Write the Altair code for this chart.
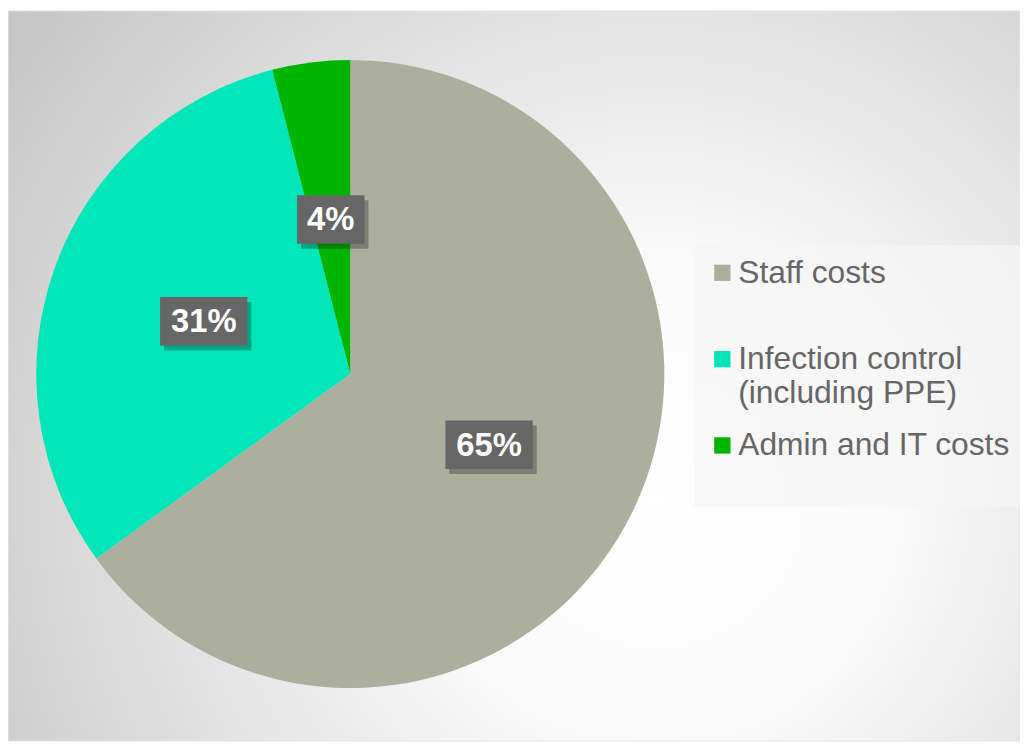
import altair as alt
import pandas as pd

categories = ["Staff costs", "Infection control (including PPE)", "Admin and IT costs"]
shares = [65, 31, 4]
colors = ["#ADAF9E", "#00E5B9", "#00B400"]

df = pd.DataFrame({"category": categories, "share": shares, "idx": list(range(len(categories)))})

CX, CY, R, LR = 345, 366, 316.5, 157

background = alt.Chart(pd.DataFrame({"bg": [0]})).mark_rect(
    fill=alt.RadialGradient(
        gradient="radial",
        x1=0.64, y1=0.62, r1=0.0,
        x2=0.64, y2=0.62, r2=0.78,
        stops=[
            alt.GradientStop(color="#FFFFFF", offset=0.0),
            alt.GradientStop(color="#FAFAFA", offset=0.3),
            alt.GradientStop(color="#C6C6C6", offset=1.0),
        ],
    ),
    stroke="#E6E6E6",
).encode(
    x=alt.value(0), x2=alt.value("width"), y=alt.value(0), y2=alt.value("height"),
)

base = alt.Chart(df)

split_expr = (
    "indexof(datum.label, ' (') > 0 ? "
    "[substring(datum.label, 0, indexof(datum.label, ' (')), "
    "substring(datum.label, indexof(datum.label, ' (') + 1)] : [datum.label, '']"
)

pie = base.mark_arc(radius=R, stroke=None).encode(
    theta=alt.Theta("share:Q", stack=True),
    order=alt.Order("idx:Q"),
    color=alt.Color(
        "category:N",
        scale=alt.Scale(domain=categories, range=colors),
        sort=categories,
        legend=alt.Legend(
            orient="none",
            legendX=692,
            legendY=236,
            title=None,
            symbolType="square",
            symbolSize=270,
            symbolStrokeWidth=0,
            labelFontSize=32,
            labelFont="Liberation Sans",
            labelColor="#666666",
            labelLimit=500,
            labelOffset=0,
            labelBaseline="middle",
            rowPadding=21,
            padding=12,
            fillColor="rgba(245,245,245,0.75)",
            labelExpr=split_expr,
        ),
    ),
    x=alt.value(CX),
    y=alt.value(CY),
)

lab = base.transform_window(
    cum="sum(share)", sort=[alt.SortField("idx")], frame=[None, 0]
).transform_joinaggregate(
    total="sum(share)"
).transform_calculate(
    mid="(datum.cum - datum.share / 2) / datum.total * 2 * PI",
    label="format(datum.share / datum.total * 100, '.0f') + '%'",
).transform_calculate(
    lx=f"{CX} + {LR} * sin(datum.mid)",
    ly=f"{CY} - {LR} * cos(datum.mid)",
    hw="10 * length(datum.label) + 14",
).transform_calculate(
    bx1="datum.lx - datum.hw",
    bx2="datum.lx + datum.hw",
    by1="datum.ly - 24.5",
    by2="datum.ly + 24.5",
    sx1="datum.lx - datum.hw + 4",
    sx2="datum.lx + datum.hw + 4",
    sy1="datum.ly - 24.5 + 5",
    sy2="datum.ly + 24.5 + 5",
)

shadow = lab.mark_rect(color="#000000", opacity=0.28).encode(
    x=alt.X("sx1:Q", scale=None), x2="sx2:Q",
    y=alt.Y("sy1:Q", scale=None), y2="sy2:Q",
)
box = lab.mark_rect(color="#666666").encode(
    x=alt.X("bx1:Q", scale=None), x2="bx2:Q",
    y=alt.Y("by1:Q", scale=None), y2="by2:Q",
)
text = lab.mark_text(
    font="Liberation Sans", fontSize=33, fontWeight="bold", color="#FFFFFF",
    align="center", baseline="middle", dy=1,
).encode(
    x=alt.X("lx:Q", scale=None),
    y=alt.Y("ly:Q", scale=None),
    text="label:N",
)

chart = alt.layer(background, pie, shadow, box, text).properties(
    width=1020, height=736, padding=0, autosize=alt.AutoSizeParams(type="none"),
).configure_view(stroke=None)

chart.save("out.html", embed_options={"renderer": "svg", "actions": False})
